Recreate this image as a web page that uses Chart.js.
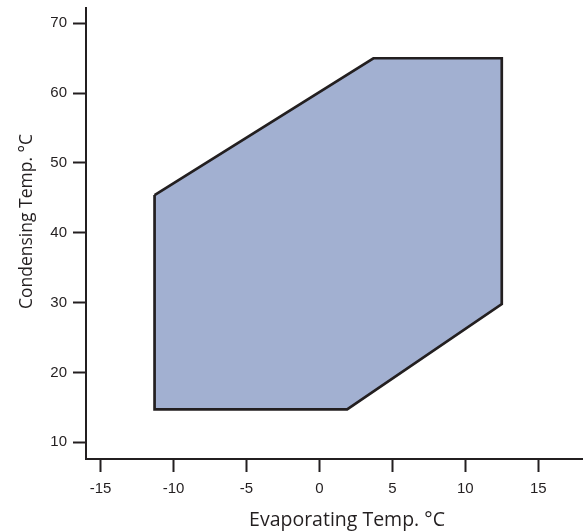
<!DOCTYPE html>
<html>
<head>
<meta charset="utf-8">
<script src="https://cdn.jsdelivr.net/npm/chart.js@4/dist/chart.umd.min.js"></script>
<style>
html,body{margin:0;padding:0;background:#fff;}
#wrap{width:584px;height:531px;position:relative;}
</style>
</head>
<body>
<div id="wrap"><canvas id="c"></canvas></div>
<script>
const evapTemps = [-11.3, -11.3, 1.9, 12.5, 12.5, 3.7, -11.3];
const condTemps = [45.4, 14.7, 14.7, 29.8, 65, 65, 45.4];
const xTicks = [-15, -10, -5, 0, 5, 10, 15];
const yTicks = [10, 20, 30, 40, 50, 60, 70];
const xTitle = 'Evaporating Temp. °C';
const yTitle = 'Condensing Temp. °C';

const ink = '#231f20';
const points = evapTemps.map((x, i) => ({x: x, y: condTemps[i]}));

const axisTitles = {
  id: 'axisTitles',
  afterDraw(chart) {
    const ctx = chart.ctx;
    const a = chart.chartArea;
    ctx.save();
    ctx.fillStyle = ink;
    ctx.textAlign = 'center';
    ctx.textBaseline = 'alphabetic';
    ctx.font = '19.5px "Open Sans"';
    ctx.fillText(xTitle, (a.left + a.right) / 2 + 13, 526);
    ctx.translate(32, (a.top + a.bottom) / 2 - 12);
    ctx.rotate(-Math.PI / 2);
    ctx.font = '17.5px "Open Sans"';
    ctx.fillText(yTitle, 0, 0);
    ctx.restore();
  }
};

new Chart(document.getElementById('c'), {
  type: 'scatter',
  data: {
    datasets: [{
      data: points,
      showLine: true,
      fill: 'shape',
      backgroundColor: '#a2b0d1',
      borderColor: ink,
      borderWidth: 2.7,
      borderJoinStyle: 'miter',
      pointRadius: 0,
      tension: 0
    }]
  },
  plugins: [axisTitles],
  options: {
    responsive: true,
    maintainAspectRatio: false,
    animation: false,
    layout: {padding: {left: 0, right: 2, top: 8, bottom: 0}},
    plugins: {legend: {display: false}, tooltip: {enabled: false}},
    scales: {
      x: {
        type: 'linear',
        min: -16,
        max: 18,
        afterBuildTicks: s => { s.ticks = xTicks.map(v => ({value: v})); },
        afterFit: s => { s.height = 531 - 459; s.paddingRight = 0; s.paddingLeft = 0; },
        border: {display: true, color: ink, width: 2},
        grid: {drawOnChartArea: false, drawTicks: true, tickLength: 13, tickWidth: 2, tickColor: ink},
        ticks: {color: ink, padding: 8, maxRotation: 0, font: {family: 'Liberation Sans', size: 15}},
        title: {display: false}
      },
      y: {
        type: 'linear',
        min: 7.6,
        max: 72.2,
        afterBuildTicks: s => { s.ticks = yTicks.map(v => ({value: v})); },
        afterFit: s => { s.width = 86; s.paddingTop = 0; s.paddingBottom = 0; },
        border: {display: true, color: ink, width: 2},
        grid: {drawOnChartArea: false, drawTicks: true, tickLength: 13, tickWidth: 2, tickColor: ink},
        ticks: {color: ink, padding: 6, font: {family: 'Liberation Sans', size: 15}},
        title: {display: false}
      }
    }
  }
});
</script>
</body>
</html>
